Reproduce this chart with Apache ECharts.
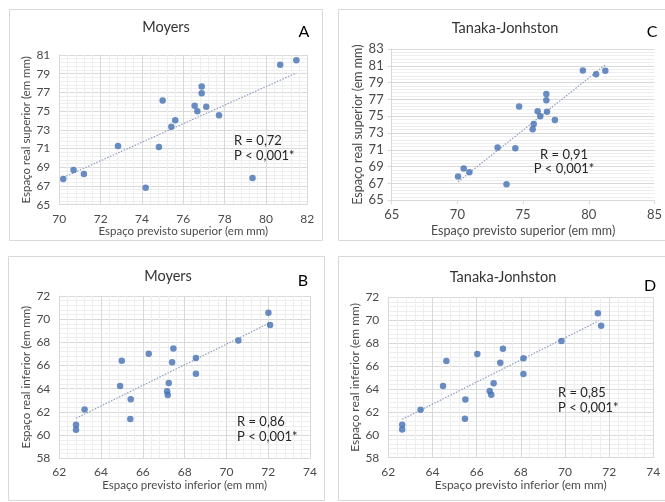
<!DOCTYPE html>
<html><head><meta charset="utf-8">
<script src="https://cdn.jsdelivr.net/npm/echarts@6/dist/echarts.min.js"></script>
<style>html,body{margin:0;padding:0;background:#fff}#c{width:665px;height:502px}</style>
</head><body><div id="c"></div>
<script>
// ---------- texts ----------
const panelTitles = ['Moyers', 'Tanaka-Jonhston', 'Moyers', 'Tanaka-Jonhston'];
const panelLetters = ['A', 'C', 'B', 'D'];
const xNames = ['Espaço previsto superior (em mm)', 'Espaço previsto superior (em mm)',
                'Espaço previsto inferior (em mm)', 'Espaço previsto inferior (em mm)'];
const yNames = ['Espaço real superior (em mm)', 'Espaço real superior (em mm)',
                'Espaço real inferior (em mm)', 'Espaço real inferior (em mm)'];
const rLabels = ['R = 0,72', 'R = 0,91', 'R = 0,86', 'R = 0,85'];
const pLabel = 'P < 0,001*';

// ---------- axis ranges (min, max, interval) ----------
const xRanges = [[70, 82, 2], [65, 85, 5], [62, 74, 2], [62, 74, 2]];
const yRanges = [[65, 81, 2], [65, 83, 2], [58, 72, 2], [58, 72, 2]];

// ---------- data: A (Moyers, superior) ----------
const moyersSupX = [70.19, 70.69, 71.19, 72.84, 74.18, 74.82, 75.00, 75.42, 75.61,
                    76.55, 76.68, 76.89, 76.89, 77.11, 77.73, 79.35, 80.69, 81.47];
const moyersSupY = [67.74, 68.71, 68.28, 71.27, 66.82, 71.17, 76.15, 73.34, 74.02,
                    75.58, 74.98, 77.62, 76.90, 75.48, 74.55, 67.85, 79.97, 80.43];
const moyersSupTrendX = [70.2, 81.47];
const moyersSupTrendY = [67.92, 79.08];

// ---------- data: C (Tanaka-Jonhston, superior) ----------
const tanakaSupX = [70.05, 70.48, 70.91, 73.06, 73.74, 74.41, 74.70, 75.73, 75.81,
                    76.11, 76.31, 76.77, 76.77, 76.82, 77.42, 79.55, 80.56, 81.26];
const tanakaSupY = [67.82, 68.77, 68.33, 71.27, 66.90, 71.19, 76.15, 73.45, 74.09,
                    75.60, 75.00, 77.66, 76.90, 75.52, 74.56, 80.44, 80.00, 80.40];
const tanakaSupTrendX = [70.05, 81.3];
const tanakaSupTrendY = [67.2, 81.17];

// ---------- data: B (Moyers, inferior) ----------
const moyersInfX = [62.80, 62.80, 63.21, 64.99, 64.91, 65.42, 65.40, 66.28, 67.46,
                    67.40, 67.24, 67.16, 67.19, 68.54, 68.54, 70.57, 72.01, 72.09];
const moyersInfY = [60.90, 60.47, 62.20, 66.42, 64.24, 63.09, 61.39, 67.02, 67.48,
                    66.28, 64.49, 63.78, 63.46, 66.65, 65.30, 68.17, 70.56, 69.49];
const moyersInfTrendX = [62.8, 72.09];
const moyersInfTrendY = [61.45, 69.70];

// ---------- data: D (Tanaka-Jonhston, inferior) ----------
const tanakaInfX = [62.63, 62.63, 63.46, 64.63, 64.48, 65.49, 65.47, 66.03, 67.19,
                    67.07, 66.77, 66.59, 66.66, 68.12, 68.12, 69.84, 71.49, 71.64];
const tanakaInfY = [60.88, 60.47, 62.19, 66.44, 64.26, 63.09, 61.41, 67.05, 67.52,
                    66.29, 64.49, 63.82, 63.50, 66.67, 65.30, 68.19, 70.60, 69.52];
const tanakaInfTrendX = [62.63, 71.52];
const tanakaInfTrendY = [61.35, 69.93];

const pointsX = [moyersSupX, tanakaSupX, moyersInfX, tanakaInfX];
const pointsY = [moyersSupY, tanakaSupY, moyersInfY, tanakaInfY];
const trendX = [moyersSupTrendX, tanakaSupTrendX, moyersInfTrendX, tanakaInfTrendX];
const trendY = [moyersSupTrendY, tanakaSupTrendY, moyersInfTrendY, tanakaInfTrendY];

// ---------- layout ----------
const grids = [
  {left: 59.3, top: 55, width: 248, height: 149.7},
  {left: 391.7, top: 49, width: 264, height: 151.3},
  {left: 59.3, top: 296, width: 250.7, height: 162.3},
  {left: 388.3, top: 297.3, width: 265, height: 160.4}
];
const frames = [
  {x: 9.5, y: 9.5, w: 313, h: 231},
  {x: 338.5, y: 9.5, w: 330, h: 231},
  {x: 8.5, y: 256.5, w: 316, h: 244},
  {x: 338.5, y: 256.5, w: 330, h: 244}
];
const titlePos = [[166, 27], [505, 28], [168, 276], [503, 277]];
const letterPos = [[304, 32], [652, 32], [303, 281], [650, 286]];
const rPos = [[234, 141, 'left'], [564, 155, 'center'], [237, 422, 'left'], [558, 393, 'left']];
const pPos = [[234, 156, 'left'], [564, 169, 'center'], [237, 437, 'left'], [558, 408, 'left']];
const xNameGap = [20, 24, 21, 21];
const yNameGap = [21, 23, 21, 25];
const tickFont = [12, 13, 12, 12];
const nameFont = [11.5, 12.5, 11.5, 12];

const FONT = 'Lato';
const TXT = '#4a4a4a';
const MAJOR = '#d9d9d9';
const MINOR = '#eeeeee';
const BLUE = '#4470b4';

const xAxis = [], yAxis = [], series = [], graphic = [];
for (let i = 0; i < 4; i++) {
  const isC = i === 1;
  xAxis.push({
    type: 'value', gridIndex: i,
    min: xRanges[i][0], max: xRanges[i][1], interval: xRanges[i][2],
    name: xNames[i], nameLocation: 'middle', nameGap: xNameGap[i],
    nameTextStyle: {color: TXT, fontFamily: FONT, fontSize: nameFont[i]},
    axisLine: {show: true, lineStyle: {color: MAJOR, width: 1}},
    axisTick: {show: isC, length: 4, lineStyle: {color: MAJOR}},
    axisLabel: {color: TXT, fontFamily: FONT, fontSize: tickFont[i], margin: 8},
    splitLine: {show: !isC, lineStyle: {color: MAJOR, width: 1}},
    minorTick: {show: false, splitNumber: 5},
    minorSplitLine: {show: !isC, lineStyle: {color: MINOR, width: 1}}
  });
  yAxis.push({
    type: 'value', gridIndex: i,
    min: yRanges[i][0], max: yRanges[i][1], interval: yRanges[i][2],
    name: yNames[i], nameLocation: 'middle', nameGap: yNameGap[i], nameRotate: 90,
    nameTextStyle: {color: TXT, fontFamily: FONT, fontSize: nameFont[i]},
    axisLine: {show: true, lineStyle: {color: MAJOR, width: 1}},
    axisTick: {show: isC, length: 4, lineStyle: {color: MAJOR}},
    axisLabel: {color: TXT, fontFamily: FONT, fontSize: tickFont[i], margin: isC ? 8 : 9},
    splitLine: {show: true, lineStyle: {color: MAJOR, width: 1}},
    minorTick: {show: false, splitNumber: 5},
    minorSplitLine: {show: true, lineStyle: {color: MINOR, width: 1}}
  });
  series.push({
    type: 'line', xAxisIndex: i, yAxisIndex: i,
    data: trendX[i].map((x, k) => [x, trendY[i][k]]),
    showSymbol: false, silent: true,
    lineStyle: {color: '#8e9fbf', width: 1.2, type: [1.5, 1.5]},
    z: 2
  });
  series.push({
    type: 'scatter', xAxisIndex: i, yAxisIndex: i,
    data: pointsX[i].map((x, k) => [x, pointsY[i][k]]),
    symbol: 'circle', symbolSize: 6.5,
    itemStyle: {color: BLUE},
    z: 3
  });
  graphic.push({
    type: 'rect', shape: {x: frames[i].x, y: frames[i].y, width: frames[i].w, height: frames[i].h},
    style: {fill: null, stroke: '#d9d9d9', lineWidth: 1}, silent: true, z: -1
  });
  graphic.push({
    type: 'text', x: titlePos[i][0], y: titlePos[i][1], z: 100,
    style: {text: panelTitles[i], fill: '#333', font: '14.5px ' + FONT,
            textAlign: 'center', textVerticalAlign: 'middle'}
  });
  graphic.push({
    type: 'text', x: letterPos[i][0], y: letterPos[i][1], z: 100,
    style: {text: panelLetters[i], fill: '#000', font: '16px ' + FONT,
            textAlign: 'center', textVerticalAlign: 'middle'}
  });
  graphic.push({
    type: 'text', x: rPos[i][0], y: rPos[i][1], z: 100,
    style: {text: rLabels[i], fill: '#262626', font: '13px ' + FONT,
            textAlign: rPos[i][2], textVerticalAlign: 'middle'}
  });
  graphic.push({
    type: 'text', x: pPos[i][0], y: pPos[i][1], z: 100,
    style: {text: pLabel, fill: '#262626', font: '13px ' + FONT,
            textAlign: pPos[i][2], textVerticalAlign: 'middle'}
  });
}

const chart = echarts.init(document.getElementById('c'), null, {renderer: 'canvas'});
chart.setOption({
  animation: false,
  backgroundColor: '#fff',
  grid: grids.map(g => ({left: g.left, top: g.top, width: g.width, height: g.height, containLabel: false})),
  xAxis, yAxis, series, graphic
});
</script>
</body></html>
